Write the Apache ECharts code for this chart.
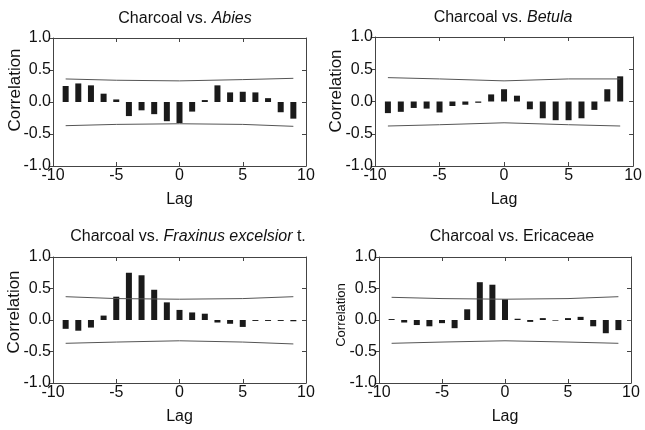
<!DOCTYPE html>
<html><head><meta charset="utf-8">
<script src="https://cdn.jsdelivr.net/npm/echarts@6/dist/echarts.min.js"></script>
<style>html,body{margin:0;padding:0;background:#fff}#c{width:645px;height:430px}</style>
</head><body><div id="c"></div>
<script>
const lags = [-9,-8,-7,-6,-5,-4,-3,-2,-1,0,1,2,3,4,5,6,7,8,9];
const abiesCorr     = [0.25,0.29,0.26,0.13,0.04,-0.22,-0.13,-0.19,-0.30,-0.33,-0.15,0.03,0.26,0.15,0.16,0.15,0.06,-0.16,-0.26];
const betulaCorr    = [-0.18,-0.16,-0.10,-0.11,-0.17,-0.07,-0.05,-0.02,0.11,0.19,0.09,-0.12,-0.26,-0.29,-0.29,-0.26,-0.13,0.19,0.39];
const fraxinusCorr  = [-0.14,-0.17,-0.12,0.07,0.37,0.75,0.71,0.48,0.28,0.16,0.12,0.10,-0.04,-0.06,-0.11,-0.015,-0.015,-0.015,-0.02];
const ericaceaeCorr = [0.015,-0.04,-0.08,-0.10,-0.05,-0.13,0.17,0.60,0.56,0.33,0.02,-0.03,0.03,-0.01,0.03,0.05,-0.10,-0.21,-0.16];
const bandLags = [-9,-5,0,5,9];
const abiesUpper = [0.36,0.34,0.33,0.35,0.37], abiesLower = [-0.37,-0.35,-0.34,-0.35,-0.38];
const betulaUpper = [0.37,0.35,0.32,0.35,0.35], betulaLower = [-0.38,-0.36,-0.33,-0.36,-0.38];
const fraxUpper = [0.37,0.34,0.33,0.34,0.37], fraxLower = [-0.37,-0.35,-0.33,-0.35,-0.38];
const ericUpper = [0.36,0.34,0.33,0.34,0.37], ericLower = [-0.37,-0.35,-0.33,-0.35,-0.37];
const xTicks = [-10,-5,0,5,10];
const yTicks = [-1.0,-0.5,0.0,0.5,1.0];

const panels = [
  {title:'Charcoal vs. {i|Abies}', vals:abiesCorr, up:abiesUpper, lo:abiesLower,
   grid:{left:53,top:38,width:253,height:128}, tx:180, ty:14, cx:15, cy:90, cfs:17},
  {title:'Charcoal vs. {i|Betula}', vals:betulaCorr, up:betulaUpper, lo:betulaLower,
   grid:{left:375,top:37,width:261,height:129}, tx:498, ty:13, cx:336, cy:91, cfs:17},
  {title:'Charcoal vs. {i|Fraxinus excelsior} t.', vals:fraxinusCorr, up:fraxUpper, lo:fraxLower,
   grid:{left:53,top:257,width:253,height:126}, tx:183, ty:232, cx:14, cy:312, cfs:17},
  {title:'Charcoal vs. Ericaceae', vals:ericaceaeCorr, up:ericUpper, lo:ericLower,
   grid:{left:379,top:257,width:252,height:126}, tx:507, ty:232, cx:341, cy:315, cfs:13}
];
const FONT = '"Liberation Sans", Arial, sans-serif';
const frame = '#444';
const option = {animation:false, grid:[], xAxis:[], yAxis:[], series:[], title:[], graphic:[]};
panels.forEach((p,i)=>{
  option.grid.push(Object.assign({containLabel:false}, p.grid));
  option.title.push({text:p.title, left:p.tx, top:p.ty, textAlign:'center', textVerticalAlign:'middle',
    textStyle:{fontFamily:FONT, fontSize:16, fontWeight:'normal', color:'#111',
      rich:{i:{fontFamily:FONT, fontSize:16, fontStyle:'italic', color:'#111'}}}});
  const base = {min:xTicks[0], max:xTicks[xTicks.length-1], interval:5, gridIndex:i, splitLine:{show:false},
    axisLine:{onZero:false, lineStyle:{color:frame, width:1}}};
  option.xAxis.push(Object.assign({type:'value', position:'bottom', name:'Lag', nameLocation:'middle', nameGap:26,
    nameTextStyle:{fontFamily:FONT, fontSize:16, color:'#111'},
    axisTick:{inside:true, length:4, lineStyle:{color:frame}},
    axisLabel:{fontFamily:FONT, fontSize:16, color:'#111', margin:2, showMinLabel:true, showMaxLabel:true}}, base));
  option.xAxis.push(Object.assign({type:'value', position:'top', axisTick:{inside:true, length:4, lineStyle:{color:frame}},
    axisLabel:{show:false}}, base));
  const ybase = {min:yTicks[0], max:yTicks[yTicks.length-1], interval:0.5, gridIndex:i, splitLine:{show:false},
    axisLine:{onZero:false, lineStyle:{color:frame, width:1}}};
  option.yAxis.push(Object.assign({type:'value', position:'left',
    axisTick:{inside:false, length:3, lineStyle:{color:frame}},
    axisLabel:{fontFamily:FONT, fontSize:16, color:'#111', margin:2, formatter:v=>v.toFixed(1)}}, ybase));
  option.yAxis.push(Object.assign({type:'value', position:'right',
    axisTick:{inside:true, length:4, lineStyle:{color:frame}}, axisLabel:{show:false}}, ybase));
  option.series.push({type:'bar', xAxisIndex:2*i, yAxisIndex:2*i, barWidth:6,
    itemStyle:{color:'#1a1a1a'}, data:lags.map((l,k)=>[l,p.vals[k]])});
  [p.up,p.lo].forEach(arr=>{
    option.series.push({type:'line', xAxisIndex:2*i, yAxisIndex:2*i, showSymbol:false, smooth:false,
      lineStyle:{color:'#555', width:1}, data:bandLags.map((l,k)=>[l,arr[k]])});
  });
  option.graphic.push({type:'text', x:p.cx, y:p.cy, rotation:Math.PI/2,
    style:{text:'Correlation', fontFamily:FONT, fontSize:p.cfs, fill:'#111', textAlign:'center', textVerticalAlign:'middle'}});
});
const chart = echarts.init(document.getElementById('c'), null, {renderer:'canvas'});
chart.setOption(option);
</script></body></html>
